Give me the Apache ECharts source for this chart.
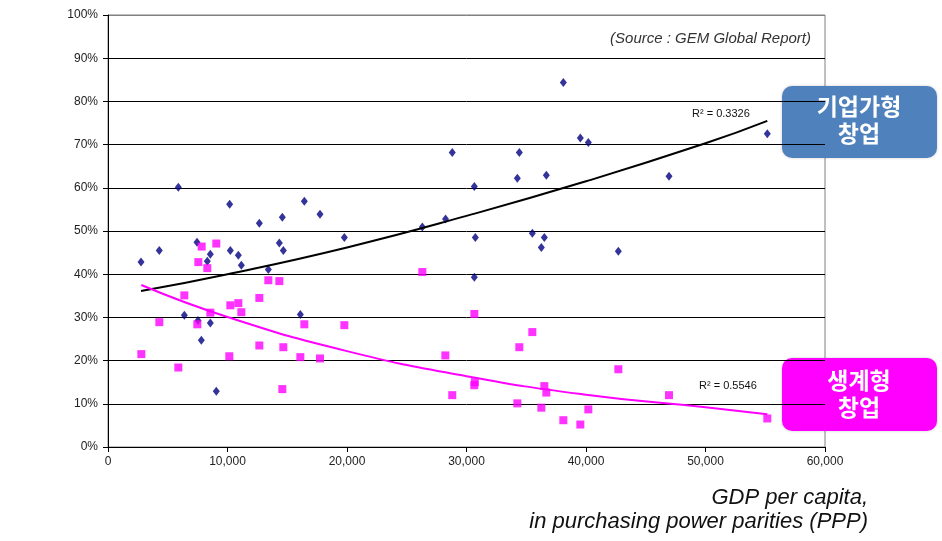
<!DOCTYPE html>
<html>
<head>
<meta charset="utf-8">
<script src="https://cdn.jsdelivr.net/npm/echarts@6/dist/echarts.min.js"></script>
<style>
  html, body { margin: 0; padding: 0; background: #fff; }
  #chart { width: 942px; height: 541px; }
</style>
</head>
<body>
<div id="chart"></div>
<script>
// 기업가형 창업 (opportunity) points: [GDP per capita, %]
const opportunityPoints = [
  [2762, 42.8], [4290, 45.5], [5885, 60.1], [6388, 30.5], [7448, 47.4], [7531, 29.3],
  [7810, 24.7], [8310, 43.0], [8563, 44.6], [8563, 28.7], [9063, 12.9], [10180, 56.2],
  [10237, 45.5], [10906, 44.4], [11158, 42.1], [12664, 51.8], [13417, 41.1], [14337, 47.2],
  [14588, 53.2], [14672, 45.5], [16095, 30.7], [16430, 56.9], [17741, 53.9], [19777, 48.5],
  [26305, 50.9], [28247, 52.8], [28808, 68.2], [30655, 60.3], [30739, 48.5], [30655, 39.3],
  [34254, 62.2], [34421, 68.2], [35509, 49.5], [36513, 48.5], [36262, 46.2], [36681, 62.9],
  [38103, 84.4], [39526, 71.5], [40195, 70.5], [42706, 45.3], [46946, 62.7], [55172, 72.5]
];
// 생계형 창업 (necessity) points
const necessityPoints = [
  [2790, 21.5], [4296, 28.9], [5885, 18.4], [6388, 35.1], [7475, 28.4], [7559, 42.8],
  [7838, 46.4], [8310, 41.4], [8563, 31.1], [9063, 47.1], [10153, 21.0], [10237, 32.8],
  [10906, 33.3], [11158, 31.2], [12664, 34.5], [12664, 23.5], [13417, 38.6], [14337, 38.4],
  [14672, 23.1], [14588, 13.4], [16095, 20.8], [16430, 28.4], [17741, 20.5], [19777, 28.2],
  [26305, 40.5], [28229, 21.2], [28808, 12.0], [30655, 30.8], [30700, 15.0], [30650, 14.3],
  [34421, 23.1], [35509, 26.6], [34254, 10.1], [36513, 14.1], [36681, 12.6], [36262, 9.1],
  [38103, 6.2], [39526, 5.2], [40195, 8.7], [42706, 18.0], [46946, 12.0], [55172, 6.6]
];
// trend lines
const opportunityTrend = [[2762, 36.1], [10000, 40.0], [20000, 46.2], [30000, 53.5], [40000, 61.5], [50000, 70.3], [55172, 75.5]];
const necessityTrend = [[2790, 37.5], [10000, 30.1], [20000, 22.2], [30000, 16.4], [40000, 12.1], [50000, 9.2], [55172, 7.6]];
const xTicks = [0, 10000, 20000, 30000, 40000, 50000, 60000];
const r2Labels = ["R² = 0.3326", "R² = 0.5546"];

const chart = echarts.init(document.getElementById("chart"));
const font = "Liberation Sans, Arial, sans-serif";
const gridColors = ["#000", "#000", "#000", "#000", "#000", "#000", "#000", "#000", "#000", "#000", "#808080"];

const option = {
  animation: false,
  backgroundColor: "#fff",
  grid: { left: 108, right: 117, top: 15, bottom: 94, show: true, borderColor: "#808080", borderWidth: 1 },
  xAxis: {
    type: "value",
    min: xTicks[0],
    max: xTicks[xTicks.length - 1],
    interval: 10000,
    axisLine: { show: true, onZero: false, lineStyle: { color: "#000", width: 1 } },
    axisTick: { show: true, length: 5, lineStyle: { color: "#000" } },
    splitLine: { show: false },
    axisLabel: {
      color: "#222", fontFamily: font, fontSize: 12, margin: 9,
      formatter: v => v.toLocaleString("en-US")
    }
  },
  yAxis: {
    type: "value",
    min: 0,
    max: 100,
    interval: 10,
    axisLine: { show: true, lineStyle: { color: "#000", width: 1 } },
    axisTick: { show: true, length: 5, lineStyle: { color: "#000" } },
    splitLine: { show: true, lineStyle: { color: gridColors, width: 1 } },
    axisLabel: { color: "#222", fontFamily: font, fontSize: 12, margin: 10, formatter: "{value}%" }
  },
  series: [
    {
      type: "scatter", data: opportunityPoints, symbol: "diamond", symbolSize: [7, 9],
      itemStyle: { color: "#000080" }
    },
    {
      type: "scatter", data: necessityPoints, symbol: "rect", symbolSize: 8,
      itemStyle: { color: "#ff00ff" }
    },
    {
      type: "line", data: opportunityTrend, smooth: true, showSymbol: false,
      lineStyle: { color: "#000", width: 2 }
    },
    {
      type: "line", data: necessityTrend, smooth: true, showSymbol: false,
      lineStyle: { color: "#ff00ff", width: 2 }
    }
  ],
  graphic: [
    {
      type: "text", right: 131, top: 31,
      style: { text: "(Source : GEM Global Report)", font: "italic 15px " + font, fill: "#333" }
    },
    {
      type: "text", left: 692, top: 108,
      style: { text: r2Labels[0], font: "11px " + font, fill: "#111" }
    },
    {
      type: "text", left: 699, top: 380,
      style: { text: r2Labels[1], font: "11px " + font, fill: "#111" }
    },
    {
      type: "rect", shape: { x: 782, y: 86, width: 155, height: 72, r: 10 },
      style: { fill: "#4f81bd", shadowBlur: 3, shadowColor: "rgba(0,0,0,0.2)" }
    },
    {
      type: "text", x: 859, y: 120,
      style: {
        text: "기업가형\n창업", font: "bold 23px 'Noto Sans CJK KR'", fill: "#fff",
        align: "center", verticalAlign: "middle", lineHeight: 27
      }
    },
    {
      type: "rect", shape: { x: 782, y: 358, width: 155, height: 73, r: 10 },
      style: { fill: "#ff00ff", shadowBlur: 3, shadowColor: "rgba(0,0,0,0.2)" }
    },
    {
      type: "text", x: 859, y: 394,
      style: {
        text: "생계형\n창업", font: "bold 23px 'Noto Sans CJK KR'", fill: "#fff",
        align: "center", verticalAlign: "middle", lineHeight: 27
      }
    },
    {
      type: "text", x: 868, y: 510,
      style: {
        text: "GDP per capita,\nin purchasing power parities (PPP)",
        font: "italic 22px " + font, fill: "#111", align: "right", verticalAlign: "middle", lineHeight: 24
      }
    }
  ]
};
chart.setOption(option);
</script>
</body>
</html>
